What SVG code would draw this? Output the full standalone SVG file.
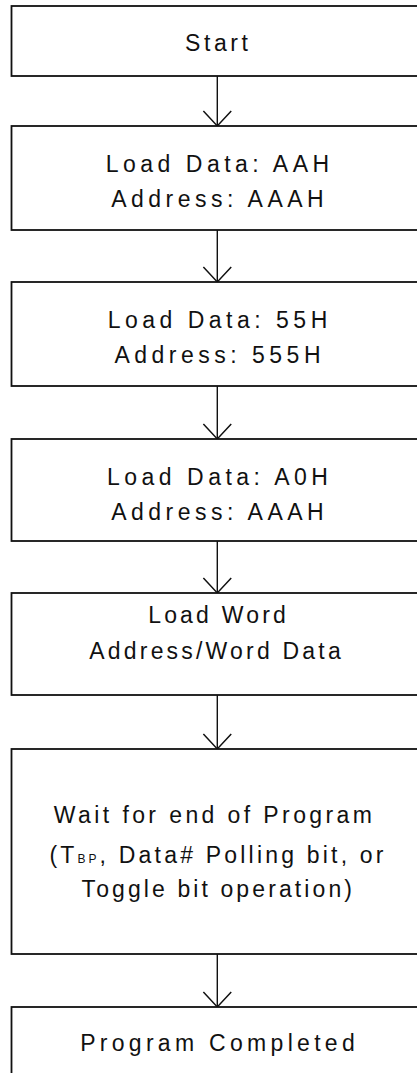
<svg xmlns="http://www.w3.org/2000/svg" width="417" height="1073" viewBox="0 0 417 1073">
  <style>
    .box { fill: #ffffff; stroke: #111111; stroke-width: 1.8; }
    .lbl { font-family: "Liberation Sans", Arial, sans-serif; font-size: 23px; letter-spacing: 4.5px; fill: #111111; text-anchor: middle; }
    .tight { letter-spacing: 3.2px; }
    .sub { font-size: 12px; letter-spacing: 3px; }
    .flow { stroke: #111111; stroke-width: 1.4; fill: none; marker-end: url(#open-arrow); }
  </style>
  <defs>
    <marker id="open-arrow" markerUnits="userSpaceOnUse" markerWidth="30" markerHeight="20" viewBox="-14 -16 28 18" refX="0" refY="0" orient="0" overflow="visible">
      <path d="M -13 -14 L 0 0 L 13 -14" fill="none" stroke="#111111" stroke-width="1.4"/>
    </marker>
  </defs>

  <rect width="417" height="1073" fill="#ffffff"/>

  <!-- connectors between steps -->
  <g id="connectors">
    <line class="flow" x1="217.3" y1="76" x2="217.3" y2="126"/>
    <line class="flow" x1="217.3" y1="230" x2="217.3" y2="282"/>
    <line class="flow" x1="217.3" y1="386" x2="217.3" y2="439"/>
    <line class="flow" x1="217.3" y1="541" x2="217.3" y2="593"/>
    <line class="flow" x1="217.3" y1="695" x2="217.3" y2="749"/>
    <line class="flow" x1="217.3" y1="954" x2="217.3" y2="1007"/>
  </g>

  <g id="start">
    <rect class="box" x="11.5" y="6" width="411" height="70"/>
    <text class="lbl" x="218.3" y="50.5" style="letter-spacing:3.6px">Start</text>
  </g>

  <g id="load-aah">
    <rect class="box" x="11.5" y="126" width="411" height="104"/>
    <text class="lbl" x="219.7" y="171.5">Load Data: AAH</text>
    <text class="lbl" x="219.7" y="207">Address: AAAH</text>
  </g>

  <g id="load-55h">
    <rect class="box" x="11.5" y="282" width="411" height="104"/>
    <text class="lbl" x="219.7" y="327.5">Load Data: 55H</text>
    <text class="lbl" x="219.7" y="363">Address: 555H</text>
  </g>

  <g id="load-a0h">
    <rect class="box" x="11.5" y="439" width="411" height="102"/>
    <text class="lbl" x="219.7" y="484.5">Load Data: A0H</text>
    <text class="lbl" x="219.7" y="520">Address: AAAH</text>
  </g>

  <g id="load-word">
    <rect class="box" x="11.5" y="593" width="411" height="102"/>
    <text class="lbl tight" x="218.6" y="623.3">Load Word</text>
    <text class="lbl tight" x="216.6" y="659">Address/Word Data</text>
  </g>

  <g id="wait">
    <rect class="box" x="11.5" y="749" width="411" height="205"/>
    <text class="lbl tight" x="214.6" y="823.3" style="letter-spacing:3.4px">Wait for end of Program</text>
    <text class="lbl tight" x="218.1" y="862.5">(T<tspan class="sub">BP</tspan>, Data# Polling bit, or</text>
    <text class="lbl tight" x="218.3" y="896.7" style="letter-spacing:3.1px">Toggle bit operation)</text>
  </g>

  <g id="completed">
    <rect class="box" x="11.5" y="1007" width="411" height="80"/>
    <text class="lbl" x="219.6" y="1050.5" style="letter-spacing:4.3px">Program Completed</text>
  </g>
</svg>
